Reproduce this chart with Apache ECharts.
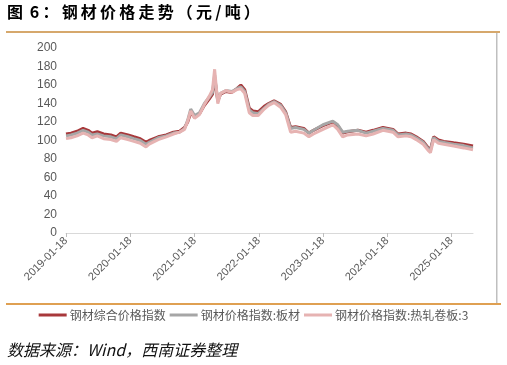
<!DOCTYPE html>
<html>
<head>
<meta charset="utf-8">
<script src="https://cdn.jsdelivr.net/npm/echarts@6/dist/echarts.min.js"></script>
<style>html,body{margin:0;padding:0;background:#fff;}#c{width:507px;height:365px;}</style>
</head>
<body>
<div id="c"></div>
<script>
var seriesNames = ['钢材综合价格指数', '钢材价格指数:板材', '钢材价格指数:热轧卷板:3'];
var tickLabels = ['2019-01-18','2020-01-18','2021-01-18','2022-01-18','2023-01-18','2024-01-18','2025-01-18'];
var yTicks = [0,20,40,60,80,100,120,140,160,180,200];
var dates = ['2019-01-18','2019-02-15','2019-03-22','2019-04-25','2019-05-24','2019-06-15','2019-07-15','2019-08-20','2019-09-30','2019-11-01','2019-11-25','2020-01-05','2020-02-08','2020-03-15','2020-04-17','2020-05-05','2020-06-25','2020-08-10','2020-09-20','2020-10-25','2020-11-22','2020-12-10','2020-12-27','2021-01-18','2021-02-15','2021-03-15','2021-04-12','2021-04-30','2021-05-12','2021-05-30','2021-06-15','2021-07-15','2021-08-18','2021-09-15','2021-10-08','2021-10-30','2021-11-25','2021-12-15','2022-01-15','2022-02-18','2022-03-15','2022-04-15','2022-05-22','2022-06-20','2022-07-18','2022-08-15','2022-10-01','2022-10-30','2022-11-25','2023-01-18','2023-03-15','2023-04-12','2023-05-10','2023-06-08','2023-08-05','2023-09-20','2023-10-30','2023-12-25','2024-02-20','2024-03-20','2024-05-05','2024-06-02','2024-07-01','2024-08-10','2024-09-08','2024-09-20','2024-10-08','2024-11-05','2024-12-05','2025-01-30','2025-03-28','2025-05-20'];
var composite = [107,108,110,113,111,108,109.5,107,106,104,108,106,104,102,98,100,104,106,109,110,114,120,130,125,129,138,145,150,168,143,150,153,152,156,160,155,135,132,131,137,140,143,139,131,114,115,113,108,111,116,120,116,108,109.5,111,109,111,114,112,107,108,107,104,99,92,90,104,100.5,99,97.5,96,94];
var plate = [105,106,108,111,109,106,107,105,104,102,106,104,102,100,96,98,103,105,108,109,113,122,134,127,130,140,147,152,171,142,151,154,153,156,158,153,133,130,129,135,139,142,138,130,113,114,112,108,111,117,121,117,109,110,111,108,110,113,111,106,107,106,103,98,91,89,103,99,98,96,94.5,92];
var hotRolled = [102,103,105,108,106,103,105,102,101,99,103,101,99,97,93,96,101,104,107,109,112,121,132,124,128,139,148,155,177,140,151,154,152,155,156,151,130,127,127,134,138,141,136,128,109,110,108,104,107,112,117,112,104,106,107,105,107,111,109,104,105,104,101,96,89,87,101,97,96,94,92,90];

function ts(s){ var p = s.split('-'); return Date.UTC(+p[0], +p[1]-1, +p[2]); }
function toPairs(vals){ return dates.map(function(d,i){ return [ts(d), vals[i]]; }); }
var tickVals = tickLabels.map(ts);

var chart = echarts.init(document.getElementById('c'), null, {renderer:'canvas'});
var colors = ['#A8383B', '#A6A6A6', '#E6B3B2'];
chart.setOption({
  animation: false,
  color: colors,
  grid: {left: 66, right: 34, top: 48, bottom: 132, containLabel: false},
  xAxis: {
    type: 'value',
    min: tickVals[0],
    max: ts(dates[dates.length-1]),
    axisLine: {show: true, lineStyle: {color: '#D9D9D9', width: 1}},
    axisTick: {show: true, customValues: tickVals, length: 4, lineStyle: {color: '#BFBFBF'}},
    axisLabel: {
      customValues: tickVals,
      rotate: 45, color: '#595959', fontSize: 11, fontFamily: 'Liberation Sans, Arial, sans-serif', margin: 6,
      formatter: function(v){ var i = tickVals.indexOf(v); return i >= 0 ? tickLabels[i] : ''; }
    },
    splitLine: {show: false}
  },
  yAxis: {
    type: 'value', min: yTicks[0], max: yTicks[yTicks.length-1], interval: 20,
    axisLine: {show: false}, axisTick: {show: false}, splitLine: {show: false},
    axisLabel: {color: '#595959', fontSize: 12, fontFamily: 'Liberation Sans, Arial, sans-serif', margin: 9}
  },
  legend: {
    top: 304, left: 'center', itemWidth: 28, itemHeight: 3, itemGap: 4, icon: 'rect',
    textStyle: {color: '#595959', fontSize: 12, fontFamily: 'Noto Sans CJK SC, sans-serif', padding: [0,0,0,-2]},
    data: seriesNames
  },
  series: [
    {name: seriesNames[0], type: 'line', showSymbol: false, data: toPairs(composite), lineStyle: {width: 3, color: colors[0]}},
    {name: seriesNames[1], type: 'line', showSymbol: false, data: toPairs(plate), lineStyle: {width: 3, color: colors[1]}},
    {name: seriesNames[2], type: 'line', showSymbol: false, data: toPairs(hotRolled), lineStyle: {width: 3, color: colors[2]}}
  ],
  graphic: [
    {type: 'text', left: 7, top: 4, style: {text: '图\u2009 6\u2009：\u2009钢\u2009材\u2009价\u2009格\u2009走\u2009势\u2009（\u2009元\u2009/\u2009吨\u2009）', fill: '#000', font: 'bold 16px "Noto Sans CJK SC", sans-serif'}},
    {type: 'rect', shape: {x: 6, y: 31, width: 494, height: 2}, style: {fill: '#D6A86C'}},
    {type: 'rect', shape: {x: 496, y: 33, width: 1.5, height: 270}, style: {fill: '#BFBFBF'}},
    {type: 'rect', shape: {x: 6, y: 303, width: 495, height: 2}, style: {fill: '#DFA052'}},
    {type: 'text', left: 7, top: 342, style: {text: '数据来源：Wind，西南证券整理', fill: '#111', font: 'italic 16px "Noto Sans CJK SC", sans-serif'}}
  ]
});
</script>
</body>
</html>
